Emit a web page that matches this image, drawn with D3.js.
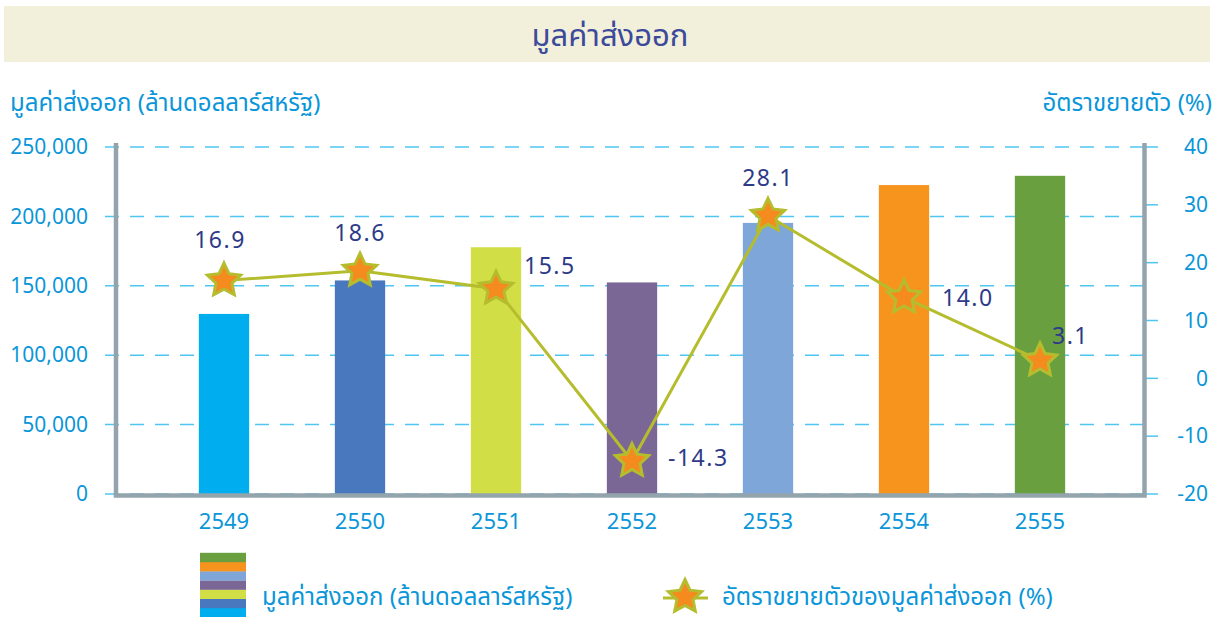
<!DOCTYPE html>
<html>
<head>
<meta charset="utf-8">
<script src="https://cdn.jsdelivr.net/npm/d3@7"></script>
<style>
  body { margin: 0; background: #fff; }
  text { font-family: "Noto Sans Thai", "Noto Sans", "DejaVu Sans", sans-serif; }
</style>
</head>
<body>
<div id="chart"></div>
<script>
var years = ["2549", "2550", "2551", "2552", "2553", "2554", "2555"];
var exportValues = [129744, 153866, 177778, 152422, 195312, 222576, 229236];
var growthRates = [16.9, 18.6, 15.5, -14.3, 28.1, 14.0, 3.1];
var barColors = ["#00aeef", "#4a78be", "#d2de45", "#7a6795", "#7ea6d8", "#f7941d", "#6a9f3f"];
var leftTicks = [0, 50000, 100000, 150000, 200000, 250000];
var rightTicks = [-20, -10, 0, 10, 20, 30, 40];

// where each growth label sits relative to its star (dx from center to text start/middle, dy to baseline)
var labelLayout = [
  { anchor: "middle", dx: -4, dy: -33 },
  { anchor: "middle", dx: 0, dy: -30 },
  { anchor: "start", dx: 28, dy: -15 },
  { anchor: "start", dx: 36, dy: 5 },
  { anchor: "middle", dx: 0, dy: -30 },
  { anchor: "start", dx: 38, dy: 9 },
  { anchor: "start", dx: 12, dy: -16 }
];

var svgWidth = 1221, svgHeight = 617;
var blue = "#0a96d8", navy = "#2e3a87", olive = "#b5bd2e", axisGray = "#93a4ad";

var svg = d3.select("#chart").append("svg")
  .attr("width", svgWidth)
  .attr("height", svgHeight);

// title banner
svg.append("rect")
  .attr("x", 4).attr("y", 6).attr("width", 1206).attr("height", 56)
  .attr("fill", "#f2efdb");
svg.append("text")
  .attr("x", 610).attr("y", 46)
  .attr("text-anchor", "middle")
  .attr("fill", "#3b4a9a")
  .style("font-size", "31px")
  .text("มูลค่าส่งออก");

// axis titles
svg.append("text")
  .attr("x", 10).attr("y", 111)
  .attr("fill", blue).style("font-size", "24px")
  .text("มูลค่าส่งออก (ล้านดอลลาร์สหรัฐ)");
svg.append("text")
  .attr("x", 1212).attr("y", 111)
  .attr("text-anchor", "end")
  .attr("fill", blue).style("font-size", "24px")
  .text("อัตราขยายตัว (%)");

// scales
var xScale = d3.scaleBand()
  .domain(years)
  .range([156, 1108])
  .paddingInner(0.63)
  .paddingOuter(0.315);

var yLeft = d3.scaleLinear().domain([0, 250000]).range([494, 147]);
var yRight = d3.scaleLinear().domain([-20, 40]).range([494, 147]);

// gridlines
svg.append("g")
  .selectAll("line")
  .data(leftTicks)
  .enter()
  .append("line")
  .attr("x1", 105).attr("x2", 1143)
  .attr("y1", d => yLeft(d)).attr("y2", d => yLeft(d))
  .attr("stroke", "#4fc6f2")
  .attr("stroke-width", 1.5)
  .attr("stroke-dasharray", "14,11");

// left axis
var leftAxis = svg.append("g")
  .attr("transform", "translate(105,0)")
  .call(d3.axisLeft(yLeft).tickValues(leftTicks).tickSize(0).tickPadding(17)
    .tickFormat(d3.format(",")));
leftAxis.select(".domain").remove();
leftAxis.selectAll("text")
  .attr("fill", blue).style("font-size", "21px");

// right axis
var rightAxis = svg.append("g")
  .attr("transform", "translate(1150,0)")
  .call(d3.axisRight(yRight).tickValues(rightTicks).tickSize(0).tickPadding(58));
rightAxis.select(".domain").remove();
rightAxis.selectAll("text")
  .attr("fill", blue).style("font-size", "21px")
  .attr("text-anchor", "end");
svg.append("g")
  .selectAll("line")
  .data(rightTicks)
  .enter()
  .append("line")
  .attr("x1", 1144).attr("x2", 1158)
  .attr("y1", d => yRight(d)).attr("y2", d => yRight(d))
  .attr("stroke", "#4fc6f2").attr("stroke-width", 1.5);

// bars
svg.append("g")
  .selectAll("rect")
  .data(years)
  .enter()
  .append("rect")
  .attr("x", d => xScale(d))
  .attr("y", (d, i) => yLeft(exportValues[i]))
  .attr("width", xScale.bandwidth())
  .attr("height", (d, i) => yLeft(0) - yLeft(exportValues[i]))
  .attr("fill", (d, i) => barColors[i]);

// frame lines
svg.append("path")
  .attr("d", "M116,143 V495.5 H1144.5 V143")
  .attr("fill", "none")
  .attr("stroke", axisGray)
  .attr("stroke-width", 4.5);

// x labels
var xAxis = svg.append("g")
  .attr("transform", "translate(0,499)")
  .call(d3.axisBottom(xScale).tickSize(0).tickPadding(14));
xAxis.select(".domain").remove();
xAxis.selectAll("text")
  .attr("fill", blue).style("font-size", "22px");

// growth line
var cx = d => xScale(d) + xScale.bandwidth() / 2;
var line = d3.line()
  .x((d, i) => cx(years[i]))
  .y(d => yRight(d));
svg.append("path")
  .datum(growthRates)
  .attr("d", line)
  .attr("fill", "none")
  .attr("stroke", olive)
  .attr("stroke-width", 3);

// five point star, fatter than d3.symbolStar
var starPoints = d3.range(10).map(function(k) {
  return [k * Math.PI / 5, k % 2 ? 8.5 : 17.5];
});
var star = d3.lineRadial().curve(d3.curveLinearClosed)(starPoints);

svg.append("g")
  .selectAll("path")
  .data(growthRates)
  .enter()
  .append("path")
  .attr("d", star)
  .attr("transform", (d, i) => `translate(${cx(years[i])},${yRight(d)})`)
  .attr("fill", "#f58a1f")
  .attr("stroke", olive)
  .attr("stroke-width", 3);

svg.append("g")
  .selectAll("text")
  .data(growthRates)
  .enter()
  .append("text")
  .attr("x", (d, i) => cx(years[i]) + labelLayout[i].dx)
  .attr("y", (d, i) => yRight(d) + labelLayout[i].dy)
  .attr("text-anchor", (d, i) => labelLayout[i].anchor)
  .attr("fill", navy)
  .style("font-size", "23px")
  .style("letter-spacing", "1.5px")
  .text(d => d.toFixed(1));

// legend
var legend = svg.append("g");
legend.selectAll("rect")
  .data(barColors)
  .enter()
  .append("rect")
  .attr("x", 200)
  .attr("y", (d, i) => 608 - i * 9.2)
  .attr("width", 46)
  .attr("height", 9.4)
  .attr("fill", d => d);
legend.append("text")
  .attr("x", 262).attr("y", 605)
  .attr("fill", blue).style("font-size", "24px")
  .text("มูลค่าส่งออก (ล้านดอลลาร์สหรัฐ)");
legend.append("line")
  .attr("x1", 663).attr("x2", 708)
  .attr("y1", 598).attr("y2", 598)
  .attr("stroke", olive).attr("stroke-width", 3);
legend.append("path")
  .attr("d", star)
  .attr("transform", "translate(685,597)")
  .attr("fill", "#f58a1f")
  .attr("stroke", olive)
  .attr("stroke-width", 3);
legend.append("text")
  .attr("x", 722).attr("y", 605)
  .attr("fill", blue).style("font-size", "24px")
  .text("อัตราขยายตัวของมูลค่าส่งออก (%)");
</script>
</body>
</html>
